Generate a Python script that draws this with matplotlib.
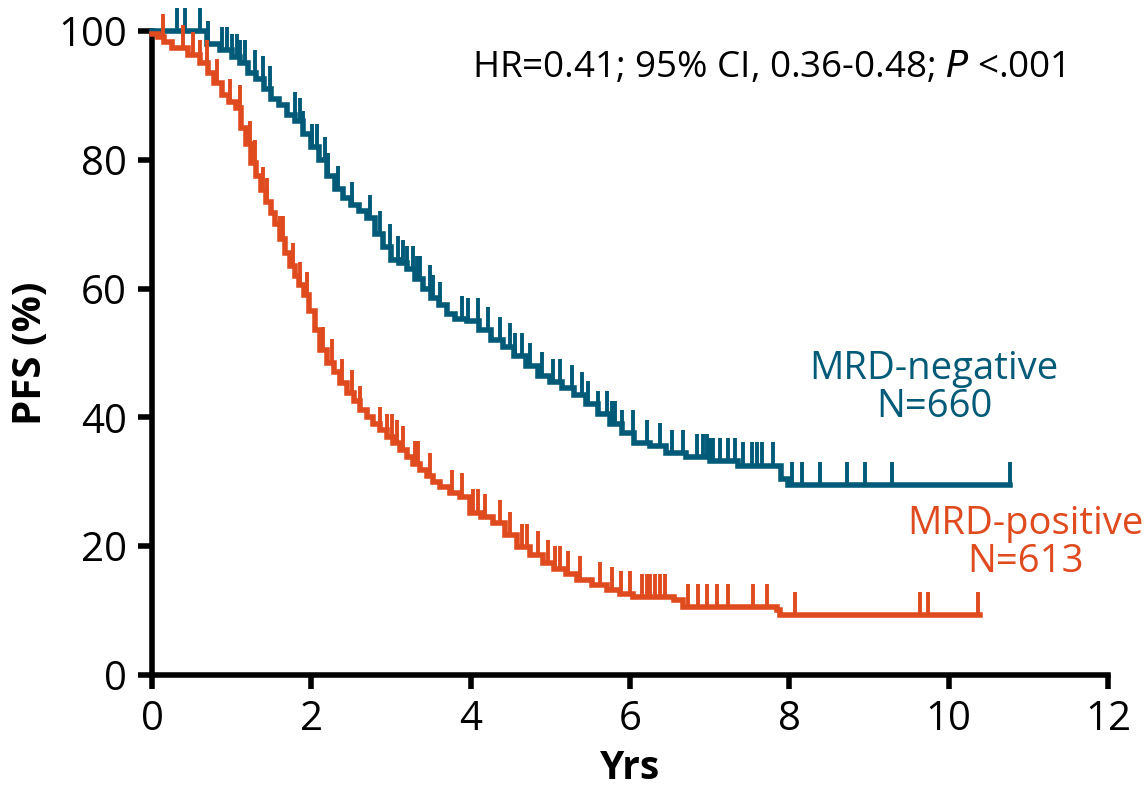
import matplotlib.pyplot as plt
import numpy as np

plt.rcParams['font.family'] = ['Open Sans', 'DejaVu Sans']

BLUE = '#005a78'
RED = '#e04a1f'

# MRD-negative: step times (yrs) and survival (%)
neg_t = [0, 0.69, 0.85, 1.0, 1.1, 1.2, 1.3, 1.4, 1.5, 1.6, 1.7, 1.8, 1.9, 2.0,
         2.1, 2.2, 2.3, 2.4, 2.5, 2.6, 2.7, 2.8, 2.9, 3.0, 3.1, 3.2, 3.3, 3.4,
         3.5, 3.6, 3.7, 3.8, 3.95, 4.1, 4.25, 4.4, 4.55, 4.7, 4.85, 5.0, 5.15,
         5.3, 5.45, 5.6, 5.75, 5.9, 6.05, 6.25, 6.45, 6.7, 7.0, 7.35, 7.9, 7.98]
neg_s = [100, 98, 97, 96, 95, 93.5, 92.5, 91, 89.5, 88.5, 87, 86, 84, 82,
         80, 77.5, 75.5, 74, 73, 72, 71, 68.5, 66.5, 64.5, 64, 63, 61.5, 60,
         58.5, 57.5, 56, 55.2, 55, 53.5, 52, 51, 49.5, 48, 46.5, 45.5, 44.5,
         43.5, 42, 40.5, 39, 37.5, 36, 35.5, 34.5, 33.8, 33.2, 32.5, 30.5, 29.5]
neg_end = 10.77
neg_cens = [0.31, 0.41, 0.60, 0.70, 0.88, 0.94, 1.00, 1.07, 1.10, 1.17, 1.29,
            1.39, 1.48, 1.79, 1.86, 1.90, 2.01, 2.07, 2.17, 2.21, 2.33, 2.51,
            2.74, 2.86, 2.99, 3.09, 3.15, 3.20, 3.28, 3.33, 3.36, 3.49, 3.53,
            3.61, 3.89, 3.97, 4.09, 4.22, 4.37, 4.49, 4.56, 4.64, 4.74, 4.89,
            5.03, 5.12, 5.27, 5.40, 5.47, 5.60, 5.71, 5.77, 5.81, 5.90, 6.04,
            6.21, 6.38, 6.53, 6.66, 6.84, 6.92, 6.97, 7.00, 7.04, 7.13, 7.23,
            7.32, 7.42, 7.53, 7.59, 7.66, 7.79, 8.03, 8.16, 8.38, 8.72, 8.95,
            9.29, 10.77]

# MRD-positive
pos_t = [0, 0.08, 0.15, 0.25, 0.45, 0.6, 0.7, 0.78, 0.88, 0.97, 1.05, 1.12,
         1.18, 1.24, 1.3, 1.37, 1.43, 1.49, 1.55, 1.61, 1.67, 1.73, 1.79, 1.85,
         1.91, 1.97, 2.04, 2.11, 2.2, 2.28, 2.36, 2.45, 2.53, 2.61, 2.7, 2.78,
         2.86, 2.95, 3.03, 3.11, 3.2, 3.28, 3.36, 3.45, 3.53, 3.61, 3.74, 3.87,
         3.99, 4.13, 4.28, 4.43, 4.58, 4.74, 4.91, 5.05, 5.2, 5.33, 5.52, 5.71,
         5.88, 6.04, 6.55, 6.67, 7.84, 7.88]
pos_s = [99.5, 99, 98.3, 97.3, 96.2, 95, 93.5, 92, 90, 89, 88, 85,
         82.5, 79.5, 77.5, 75.3, 73.5, 71.8, 70, 67.7, 65.5, 63.5, 62, 60.5,
         59, 56.5, 53.5, 50.5, 48.5, 47, 45.4, 43.8, 42.5, 41.2, 40, 39,
         38, 37, 36, 35, 33.8, 32.8, 31.9, 30.9, 30, 29.2, 28.3, 27.7,
         25.2, 24.5, 23.6, 21.7, 19.9, 18.7, 17.4, 16.5, 15.6, 14.8, 14, 13.2,
         12.6, 12.1, 11.6, 10.6, 10.1, 9.3]
pos_end = 10.39
pos_cens = [0.14, 0.39, 0.51, 0.60, 0.69, 0.82, 0.98, 1.10, 1.23, 1.29, 1.39,
            1.44, 1.61, 1.64, 1.77, 1.86, 1.95, 2.15, 2.26, 2.38, 2.51, 2.61,
            2.86, 2.95, 3.01, 3.07, 3.15, 3.30, 3.34, 3.49, 3.77, 3.89, 4.03,
            4.09, 4.18, 4.37, 4.49, 4.64, 4.71, 4.84, 4.97, 5.06, 5.12, 5.22,
            5.37, 5.62, 5.77, 5.89, 6.00, 6.15, 6.21, 6.25, 6.31, 6.38, 6.44,
            6.73, 6.85, 6.97, 7.09, 7.23, 7.54, 7.72, 8.07, 9.64, 9.74, 10.37]


def draw_km(ax, t, s, end, cens, color):
    tt = list(t) + [end]
    ss = list(s) + [s[-1]]
    ax.step(tt, ss, where='post', color=color, lw=4, clip_on=False,
            solid_joinstyle='miter', zorder=3)
    t_arr = np.array(t)
    s_arr = np.array(s)
    idx = np.searchsorted(t_arr, cens, side='right') - 1
    base = s_arr[idx]
    ax.vlines(cens, base, base + 3.6, color=color, lw=2.8, clip_on=False, zorder=3)


fig = plt.figure(figsize=(11.47, 7.95), dpi=100)
ax = fig.add_axes([0.1325, 0.151, 0.8335, 0.81])

draw_km(ax, neg_t, neg_s, neg_end, neg_cens, BLUE)
draw_km(ax, pos_t, pos_s, pos_end, pos_cens, RED)

ax.set_xlim(0, 12)
ax.set_ylim(0, 100)
ax.set_xticks(range(0, 13, 2))
ax.set_yticks(range(0, 101, 20))
for side in ['top', 'right']:
    ax.spines[side].set_visible(False)
for side in ['left', 'bottom']:
    ax.spines[side].set_linewidth(4)
ax.tick_params(axis='both', width=4, length=10, labelsize=29, pad=8)

ax.set_xlabel('Yrs', fontsize=28, fontweight='bold', labelpad=6)
ax.set_ylabel('PFS (%)', fontsize=29, fontweight='bold', labelpad=6)

ax.text(7.74, 94.2, 'HR=0.41; 95% CI, 0.36-0.48; $\\it{P}$ <.001',
        fontsize=26.5, ha='center', va='center')
ax.text(9.82, 44.5, 'MRD-negative\nN=660', color=BLUE, fontsize=27.5,
        ha='center', va='center', linespacing=1.0)
ax.text(10.96, 20.5, 'MRD-positive\nN=613', color=RED, fontsize=27.5,
        ha='center', va='center', linespacing=1.0)

fig.savefig('out.png', dpi=100)
